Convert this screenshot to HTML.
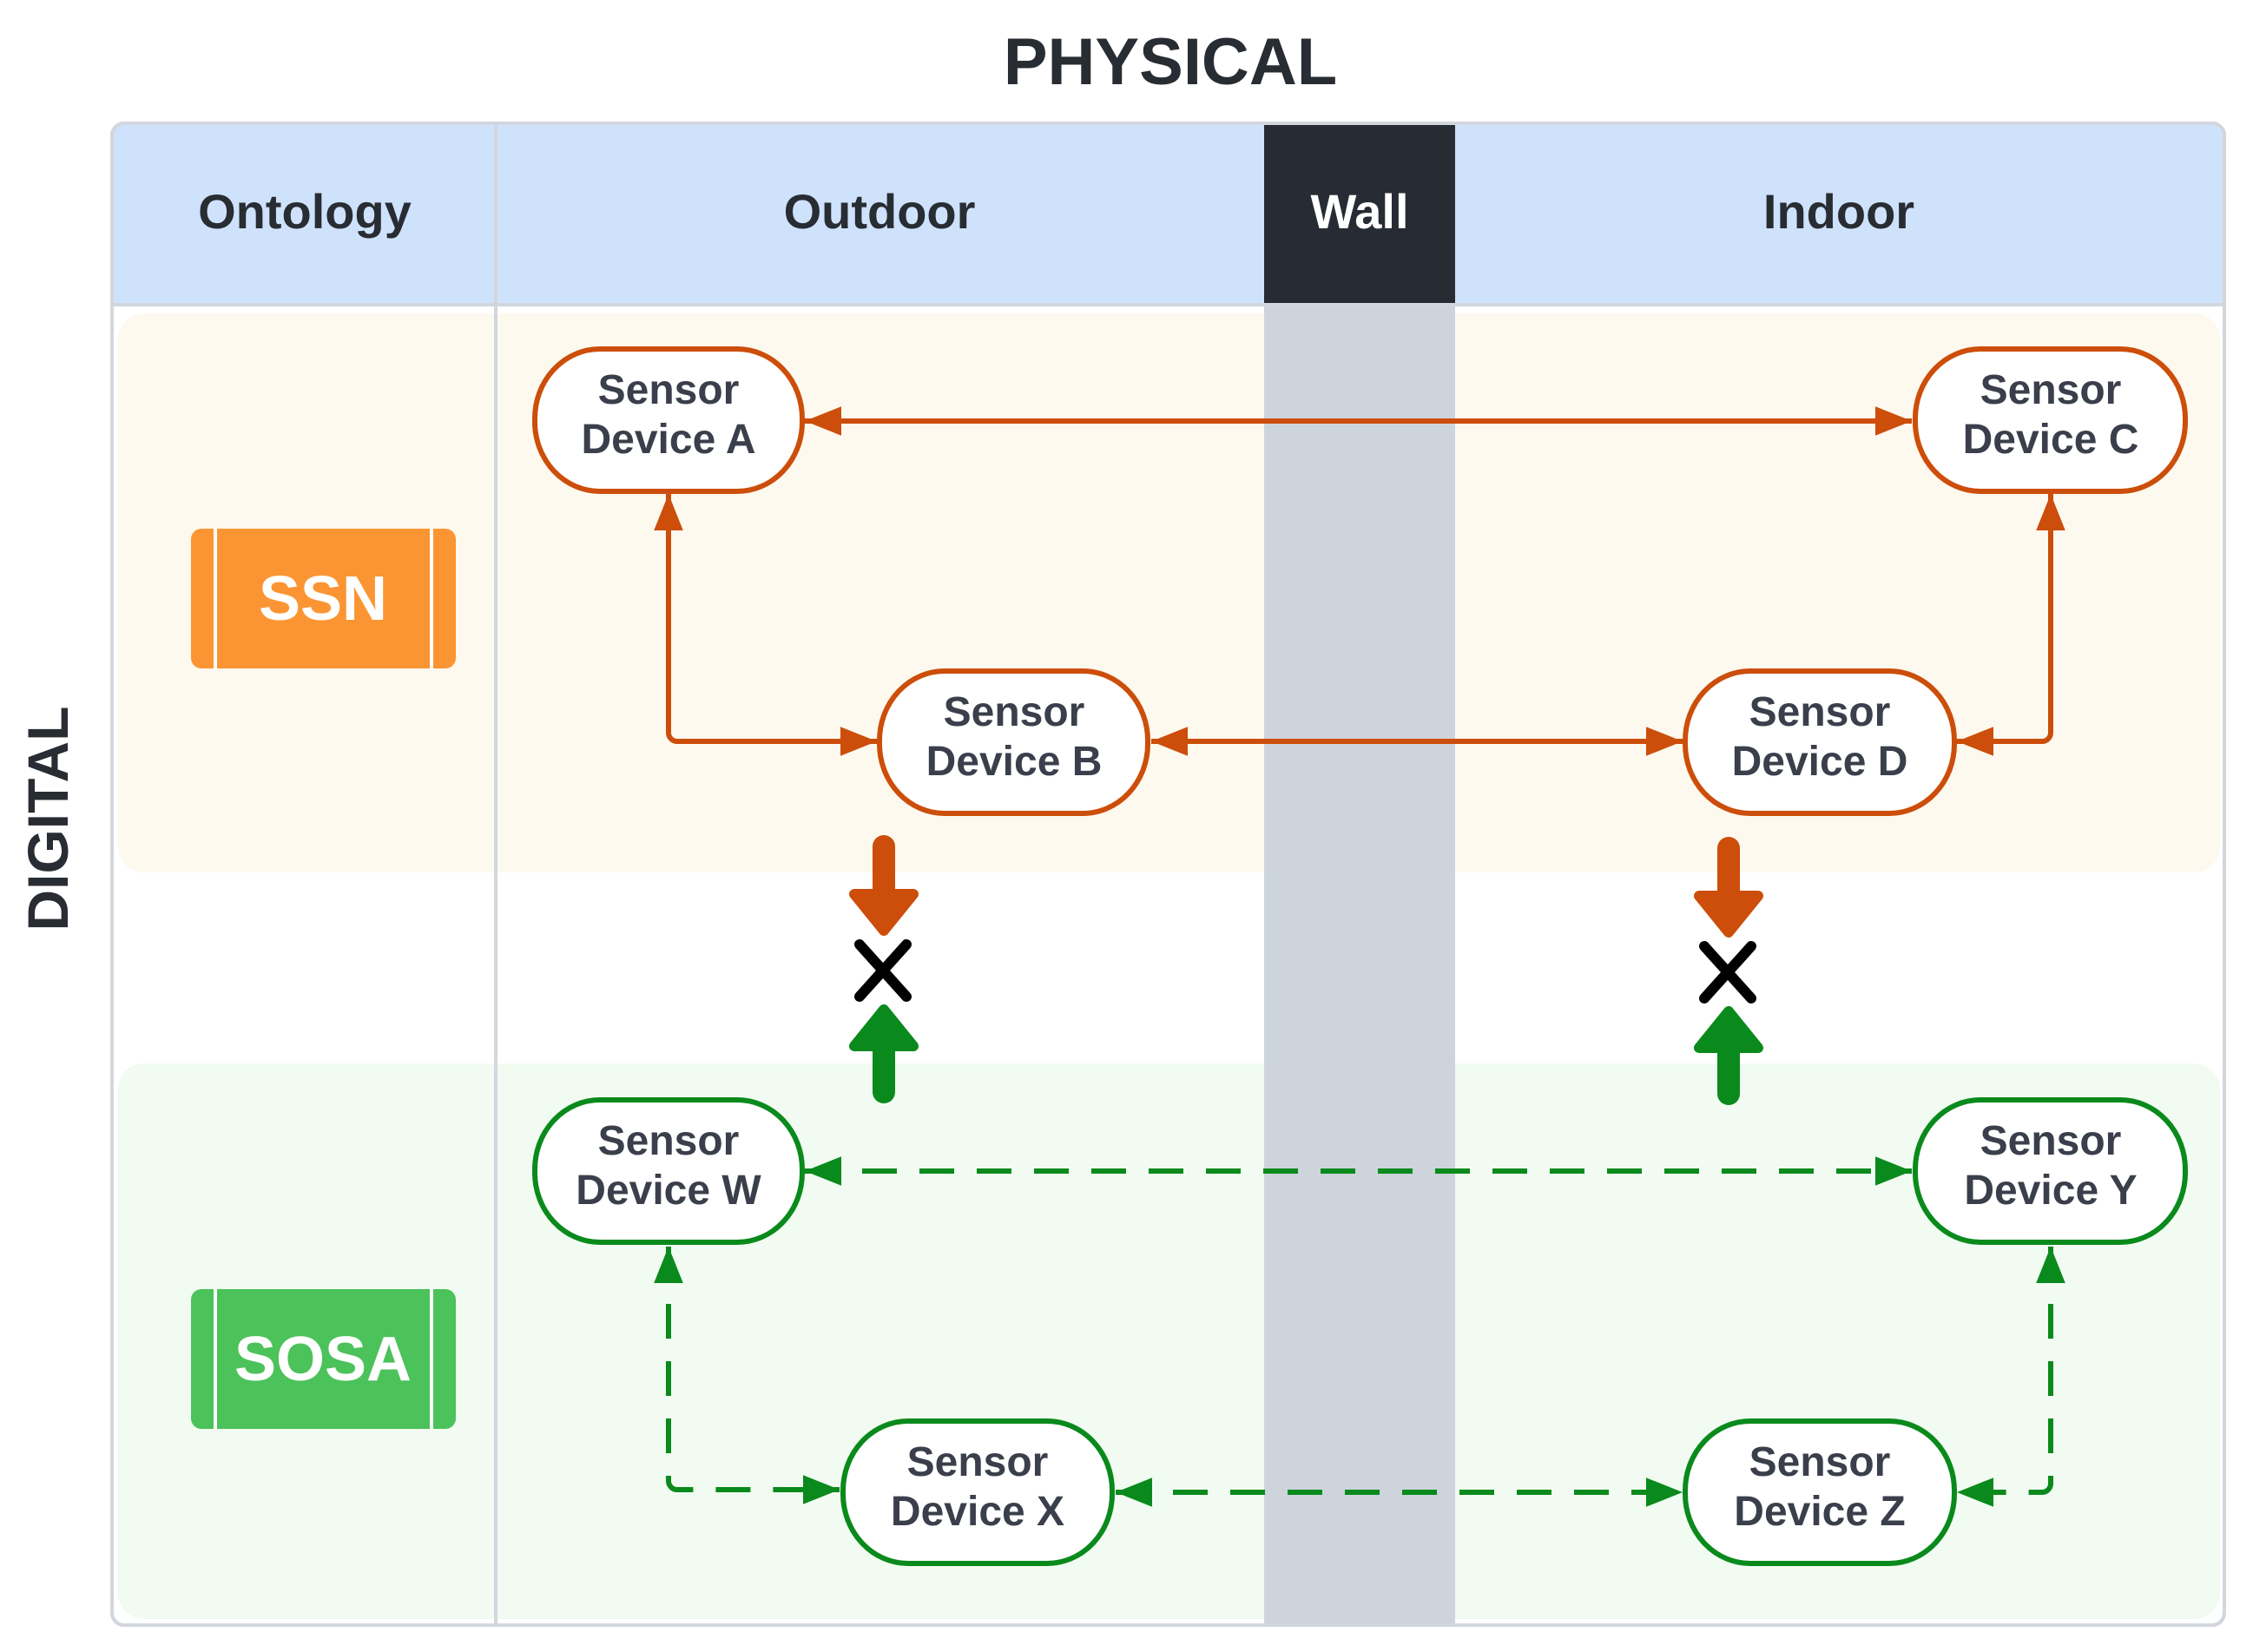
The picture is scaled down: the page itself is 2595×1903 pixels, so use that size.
<!DOCTYPE html>
<html><head><meta charset="utf-8"><style>html,body{margin:0;padding:0;background:#fff}svg{display:block}text{font-family:"Liberation Sans",Arial,sans-serif;font-weight:bold}</style></head><body>
<svg width="2595" height="1903" viewBox="0 0 2595 1903" xmlns="http://www.w3.org/2000/svg">
<defs>
<marker id="ao" viewBox="0 0 10 8" refX="10" refY="4" markerWidth="42" markerHeight="34" markerUnits="userSpaceOnUse" orient="auto-start-reverse"><path d="M0,0L10,4L0,8z" fill="#cc4e0a" stroke="none"/></marker>
<marker id="ag" viewBox="0 0 10 8" refX="10" refY="4" markerWidth="42" markerHeight="34" markerUnits="userSpaceOnUse" orient="auto-start-reverse"><path d="M0,0L10,4L0,8z" fill="#0a8a1c" stroke="none"/></marker>
</defs>
<text x="1348" y="97" font-size="76" fill="#282c33" text-anchor="middle">PHYSICAL</text>
<text transform="translate(78,943) rotate(-90)" font-size="66" fill="#282c33" text-anchor="middle">DIGITAL</text>
<rect x="129" y="142" width="2433" height="1730" rx="14" fill="#fff" stroke="#d2d6dd" stroke-width="4"/>
<path d="M143,142H2548a14,14 0 0 1 14,14V351H129V156a14,14 0 0 1 14,-14z" fill="#cfe2fb"/>
<rect x="136" y="361" width="2421" height="644" rx="30" fill="#fdf9ef"/>
<rect x="136" y="1225" width="2421" height="640" rx="30" fill="#f1fbf1"/>
<rect x="1456" y="142" width="220" height="1730" fill="#cdd4dc"/>
<rect x="1456" y="142" width="220" height="209" fill="#272b33"/>
<line x1="129" y1="351" x2="2562" y2="351" stroke="#d2d6dd" stroke-width="4"/>
<line x1="571" y1="142" x2="571" y2="1872" stroke="#d2d6dd" stroke-width="4"/>
<rect x="129" y="142" width="2433" height="1730" rx="14" fill="none" stroke="#d2d6dd" stroke-width="4"/>
<g font-size="56" text-anchor="middle" fill="#282c33">
<text x="351" y="263">Ontology</text><text x="1013" y="263">Outdoor</text><text x="1566" y="263" fill="#fff">Wall</text><text x="2118" y="263">Indoor</text>
</g>
<rect x="220" y="609" width="305" height="161" rx="12" fill="#fb9533"/>
<line x1="248" y1="609" x2="248" y2="770" stroke="#fff" stroke-width="4"/><line x1="497" y1="609" x2="497" y2="770" stroke="#fff" stroke-width="4"/>
<text x="372" y="714" font-size="72" fill="#fff" text-anchor="middle">SSN</text>
<rect x="220" y="1485" width="305" height="161" rx="12" fill="#4cc25a"/>
<line x1="248" y1="1485" x2="248" y2="1646" stroke="#fff" stroke-width="4"/><line x1="497" y1="1485" x2="497" y2="1646" stroke="#fff" stroke-width="4"/>
<text x="372" y="1590" font-size="72" fill="#fff" text-anchor="middle">SOSA</text>
<g stroke="#cc4e0a" stroke-width="6" fill="none">
<line x1="927" y1="485" x2="2202" y2="485" marker-start="url(#ao)" marker-end="url(#ao)"/>
<path d="M770,569V844a10,10 0 0 0 10,10H1010" marker-start="url(#ao)" marker-end="url(#ao)"/>
<line x1="1326" y1="854" x2="1938" y2="854" marker-start="url(#ao)" marker-end="url(#ao)"/>
<path d="M2362,569V844a10,10 0 0 1 -10,10H2254" marker-start="url(#ao)" marker-end="url(#ao)"/>
</g>
<g stroke="#0a8a1c" stroke-width="6" fill="none" stroke-dasharray="40,26">
<line x1="927" y1="1349" x2="2202" y2="1349" marker-start="url(#ag)" marker-end="url(#ag)"/>
<path d="M770,1436V1706a10,10 0 0 0 10,10H967" marker-start="url(#ag)" marker-end="url(#ag)"/>
<line x1="1285" y1="1719" x2="1938" y2="1719" marker-start="url(#ag)" marker-end="url(#ag)"/>
<path d="M2362,1436V1709a10,10 0 0 1 -10,10H2254" marker-start="url(#ag)" marker-end="url(#ag)"/>
</g>
<g fill="#fff" stroke-width="6">
<rect x="616" y="402" width="308" height="164" rx="75" ry="80" stroke="#cc4e0a"/>
<rect x="2206" y="402" width="311" height="164" rx="75" ry="80" stroke="#cc4e0a"/>
<rect x="1013" y="773" width="309" height="164" rx="75" ry="80" stroke="#cc4e0a"/>
<rect x="1941" y="773" width="310" height="164" rx="75" ry="80" stroke="#cc4e0a"/>
<rect x="616" y="1267" width="308" height="164" rx="75" ry="80" stroke="#0a8a1c"/>
<rect x="2206" y="1267" width="311" height="164" rx="75" ry="80" stroke="#0a8a1c"/>
<rect x="971" y="1637" width="310" height="164" rx="75" ry="80" stroke="#0a8a1c"/>
<rect x="1941" y="1637" width="310" height="164" rx="75" ry="80" stroke="#0a8a1c"/>
</g>
<g font-size="48" fill="#3a3f4b" text-anchor="middle">
<text x="770" y="465">Sensor</text><text x="770" y="522">Device A</text>
<text x="2362" y="465">Sensor</text><text x="2362" y="522">Device C</text>
<text x="1168" y="836">Sensor</text><text x="1168" y="893">Device B</text>
<text x="2096" y="836">Sensor</text><text x="2096" y="893">Device D</text>
<text x="770" y="1330">Sensor</text><text x="770" y="1387">Device W</text>
<text x="2362" y="1330">Sensor</text><text x="2362" y="1387">Device Y</text>
<text x="1126" y="1700">Sensor</text><text x="1126" y="1757">Device X</text>
<text x="2096" y="1700">Sensor</text><text x="2096" y="1757">Device Z</text>
</g>
<g id="blk">
<path d="M1018,975V1030" stroke="#cc4e0a" stroke-width="26" stroke-linecap="round"/>
<path d="M984,1030H1052L1018,1072z" fill="#cc4e0a" stroke="#cc4e0a" stroke-width="12" stroke-linejoin="round"/>
<path d="M990,1088L1044,1148M1044,1088L990,1148" stroke="#000" stroke-width="12" stroke-linecap="round"/>
<path d="M1018,1258V1200" stroke="#0a8a1c" stroke-width="26" stroke-linecap="round"/>
<path d="M984,1205H1052L1018,1163z" fill="#0a8a1c" stroke="#0a8a1c" stroke-width="12" stroke-linejoin="round"/>
</g>
<use href="#blk" transform="translate(973,2)"/>
</svg>
</body></html>
